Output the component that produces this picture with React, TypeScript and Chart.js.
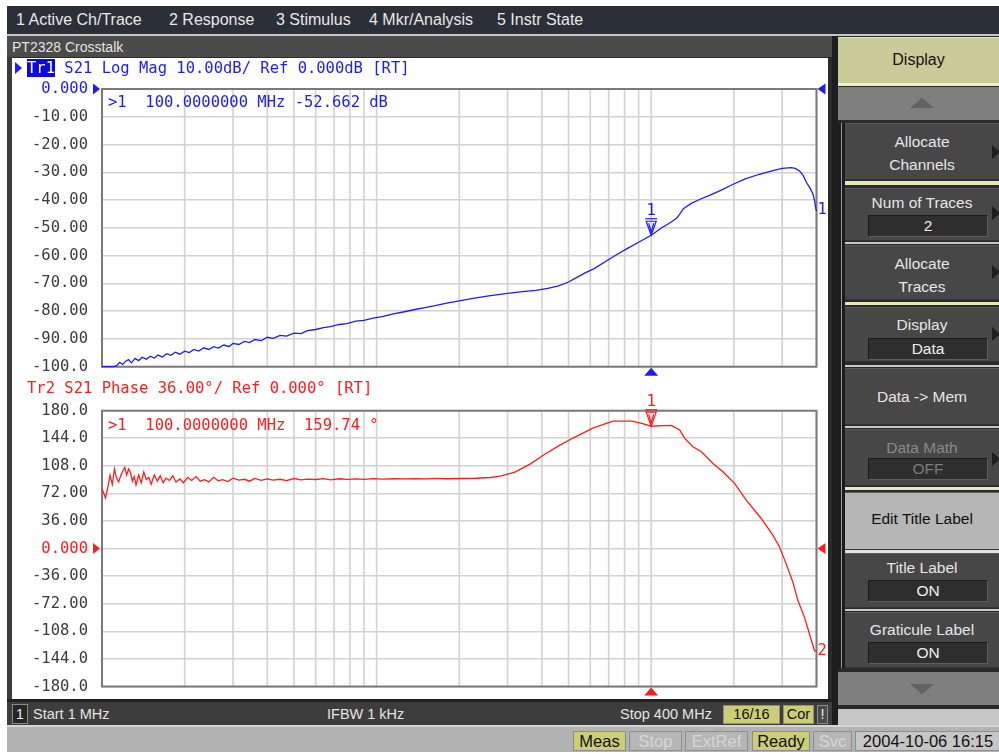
import React, { useEffect, useRef } from 'react';
import { Chart, registerables } from 'chart.js';
Chart.register(...registerables);

// ---------- DATA ----------
const gridFreqMHz = [1, 2, 3, 4, 5, 6, 7, 8, 9, 10, 20, 30, 40, 50, 60, 70, 80, 90, 100, 200, 300, 400];

const magFreqMHz = [
  1.0, 1.05, 1.1, 1.13, 1.16, 1.19, 1.22, 1.25, 1.28, 1.32,
  1.36, 1.4, 1.45, 1.5, 1.55, 1.6, 1.66, 1.72, 1.78, 1.85,
  1.92, 2.0, 2.08, 2.16, 2.25, 2.35, 2.45, 2.55, 2.65, 2.78,
  2.9, 3.0, 3.15, 3.3, 3.45, 3.6, 3.8, 4.0, 4.2, 4.45,
  4.7, 5.0, 5.3, 5.6, 6.0, 6.4, 6.8, 7.3, 7.8, 8.4,
  9.0, 9.7, 10.5, 11.5, 12.5, 13.8, 15, 16.5, 18, 20,
  23, 26, 30, 34, 38, 42, 46, 50, 53, 57,
  62, 68, 75, 82, 90, 100, 110, 118, 124, 128,
  131, 140, 150, 163, 180, 198, 220, 248, 275, 300,
  323, 335, 347, 357, 367, 378, 388, 394, 397, 400,
];
const magDb = [
  -100, -100, -100, -99.6, -98.4, -99.2, -98.0, -97.4, -98.6, -97.0,
  -97.8, -96.6, -97.3, -96.2, -96.9, -95.8, -96.5, -95.3, -95.9, -94.8,
  -95.5, -94.4, -94.9, -93.8, -94.4, -93.2, -93.8, -92.8, -93.3, -92.2,
  -92.7, -91.6, -92.0, -90.9, -91.3, -90.2, -90.6, -89.4, -89.8, -88.7,
  -89.0, -87.9, -88.1, -87.0, -86.6, -85.9, -85.6, -84.8, -84.5, -83.6,
  -83.3, -82.5, -82.0, -81.0, -80.3, -79.4, -78.7, -77.9, -77.1, -76.3,
  -75.2, -74.4, -73.6, -73.0, -72.5, -71.8, -70.9, -69.5, -68.1, -66.4,
  -64.7, -62.2, -59.6, -57.4, -55.2, -52.662, -49.8, -48.0, -46.5, -44.6,
  -43.1, -41.2, -39.8, -38.3, -36.4, -34.4, -32.4, -30.7, -29.5, -28.6,
  -28.3, -28.6, -29.5, -31.0, -33.5, -35.5, -37.7, -40.5, -42.7, -44.0,
];

const phaseFreqMHz = [
  1.0, 1.015, 1.03, 1.05, 1.07, 1.09, 1.11, 1.13, 1.15, 1.17,
  1.19, 1.21, 1.23, 1.25, 1.27, 1.29, 1.31, 1.33, 1.36, 1.39,
  1.42, 1.45, 1.48, 1.51, 1.55, 1.59, 1.63, 1.67, 1.71, 1.76,
  1.81, 1.86, 1.92, 1.98, 2.05, 2.12, 2.2, 2.28, 2.36, 2.45,
  2.55, 2.65, 2.75, 2.87, 3.0, 3.15, 3.3, 3.45, 3.6, 3.8,
  4.0, 4.2, 4.45, 4.7, 5.0, 5.3, 5.6, 6.0, 6.4, 6.8,
  7.3, 7.8, 8.4, 9.0, 9.7, 10.5, 11.5, 12.5, 13.8, 15,
  16.5, 18, 20, 23, 26, 28.2, 31.9, 36.2, 41.1, 46.5,
  51.9, 61.3, 72.5, 85, 93.2, 100, 110, 118.5, 127, 132.5,
  142, 152.3, 167.9, 182.5, 201.2, 222, 251.6, 277.4, 293.3, 310,
  328, 342, 361.5, 376.9, 393, 400,
];
const phaseDeg = [
  78.5, 72, 66, 80, 96, 84, 104, 92, 87, 95,
  101, 106, 96, 104, 99, 88, 94, 83, 96, 86,
  100, 90, 93, 84, 96, 88, 95, 86, 92, 89,
  95, 87, 91, 86, 93, 89, 94, 88, 90, 87,
  93, 88.5, 90, 87.5, 92, 89.5, 90.5, 88, 91.5, 89,
  91, 89.5, 90.5, 88.8, 91.5, 89.8, 90.8, 90.2, 91.4, 89.8,
  91.2, 90.4, 90.9, 90.3, 91.3, 90.6, 91.2, 90.9, 91.3, 91,
  91.6, 91.2, 91.5, 91.8, 92.8, 94.6, 99.8, 110.3, 123.4, 135.1,
  144.3, 157.3, 166.5, 166.5, 163.2, 159.74, 160.5, 160.8, 154.8, 143.9,
  132.9, 126.4, 111.2, 100.2, 85.1, 63.2, 39.3, 17.5, 2.2, -19.6,
  -43.6, -67.5, -89.4, -111.1, -133, -134.5,
];

const markerFreqMHz = 100;
const markerMagDb = -52.662;
const markerPhaseDeg = 159.74;

const menuItems = ['1 Active Ch/Trace', '2 Response', '3 Stimulus', '4 Mkr/Analysis', '5 Instr State'];
const menuX = [16, 169, 276, 369, 497];

// ---------- STYLE CONSTANTS ----------
const MONO = '"DejaVu Sans Mono", monospace';
const SANS = '"Liberation Sans", Arial, sans-serif';
const BLUE = '#1c1cff';
const RED = '#ff1c1c';
const GRID = '#d2d2d2';

const tri = (ctx: CanvasRenderingContext2D, pts: number[][]) => {
  ctx.beginPath();
  ctx.moveTo(pts[0][0], pts[0][1]);
  for (let i = 1; i < pts.length; i++) ctx.lineTo(pts[i][0], pts[i][1]);
  ctx.closePath();
  ctx.fill();
};

const vnaPlugin = {
  id: 'vna',
  beforeDatasetsDraw(chart: any) {
    const { ctx, chartArea: a, scales } = chart;
    ctx.save();
    ctx.strokeStyle = GRID;
    ctx.lineWidth = 1.6;
    gridFreqMHz.forEach((f) => {
      const x = scales.x.getPixelForValue(f);
      ctx.beginPath();
      ctx.moveTo(x, a.top);
      ctx.lineTo(x, a.bottom);
      ctx.stroke();
    });
    ctx.strokeStyle = '#7a7a7a';
    ctx.lineWidth = 2;
    ctx.strokeRect(a.left, a.top, a.right - a.left, a.bottom - a.top);
    ctx.restore();
  },
  afterDatasetsDraw(chart: any, _args: any, o: any) {
    const { ctx, chartArea: a, scales } = chart;
    const xs = scales.x;
    const ys = scales.y;
    ctx.save();
    ctx.fillStyle = o.color;
    ctx.strokeStyle = o.color;
    const ry = ys.getPixelForValue(o.refValue);
    tri(ctx, [[a.left - 9, ry - 5.5], [a.left - 9, ry + 5.5], [a.left - 2, ry]]);
    tri(ctx, [[a.right + 9, ry - 5.5], [a.right + 9, ry + 5.5], [a.right + 1, ry]]);
    const mx = xs.getPixelForValue(o.markerFreq);
    tri(ctx, [[mx, a.bottom + 1], [mx - 7, a.bottom + 9], [mx + 7, a.bottom + 9]]);
    const my = ys.getPixelForValue(o.markerValue);
    ctx.lineWidth = 1.2;
    ctx.beginPath();
    ctx.moveTo(mx - 5, my - 14);
    ctx.lineTo(mx + 5, my - 14);
    ctx.lineTo(mx, my);
    ctx.closePath();
    ctx.stroke();
    ctx.beginPath();
    ctx.moveTo(mx - 2.5, my - 12);
    ctx.lineTo(mx, my - 3);
    ctx.lineTo(mx + 2.5, my - 12);
    ctx.stroke();
    ctx.beginPath();
    ctx.moveTo(mx - 6, my - 16.5);
    ctx.lineTo(mx + 6, my - 16.5);
    ctx.stroke();
    ctx.font = `15.5px ${MONO}`;
    ctx.textAlign = 'center';
    ctx.textBaseline = 'middle';
    ctx.fillText('1', mx, my - 24);
    const data = chart.data.datasets[0].data;
    const last = data[data.length - 1];
    ctx.textAlign = 'left';
    ctx.fillText(String(o.traceNum), xs.getPixelForValue(last.x) + 1, ys.getPixelForValue(last.y) - 1);
    ctx.restore();
  },
};

type ChartProps = {
  l: number; t: number; w: number; h: number;
  pad: { top: number; bottom: number; left: number; right: number };
  freqs: number[]; values: number[];
  yMin: number; yMax: number; step: number;
  color: string; markerValue: number; traceNum: number;
};

function TraceChart(p: ChartProps) {
  const ref = useRef<HTMLCanvasElement>(null);
  useEffect(() => {
    const chart = new Chart(ref.current as HTMLCanvasElement, {
      type: 'line',
      data: {
        datasets: [{
          data: p.freqs.map((f, i) => ({ x: f, y: p.values[i] })),
          borderColor: p.color,
          borderWidth: 1.3,
          pointRadius: 0,
          tension: 0,
          clip: 4,
        } as any],
      },
      options: {
        animation: false,
        responsive: false,
        events: [],
        layout: { padding: p.pad },
        plugins: {
          legend: { display: false },
          tooltip: { enabled: false },
          vna: { color: p.color, refValue: 0, markerFreq: markerFreqMHz, markerValue: p.markerValue, traceNum: p.traceNum },
        } as any,
        scales: {
          x: {
            type: 'logarithmic',
            display: false,
            min: 1,
            max: 400,
          },
          y: {
            min: p.yMin,
            max: p.yMax,
            afterFit: (s: any) => { s.width = 90; s.paddingTop = 0; s.paddingBottom = 0; },
            ticks: {
              stepSize: p.step,
              autoSkip: false,
              padding: 14,
              color: (c: any) => (Math.abs(c.tick.value) < 1e-9 ? p.color : '#3c3c3c'),
              font: { family: 'DejaVu Sans Mono', size: 15.5 },
              callback: (v: any) => (Math.abs(Number(v)) < 1e-9 ? 0 : Number(v)).toPrecision(4),
            },
            grid: { color: GRID, lineWidth: 1.6, drawTicks: false },
            border: { display: false },
          },
        } as any,
      },
      plugins: [vnaPlugin],
    });
    return () => chart.destroy();
  }, []);
  return (
    <canvas ref={ref} width={p.w} height={p.h}
      style={{ position: 'absolute', left: p.l, top: p.t, width: p.w, height: p.h }} />
  );
}

type BoxProps = { l: number; t: number; w: number; h: number; bg?: string; style?: React.CSSProperties; children?: React.ReactNode };
const Box = ({ l, t, w, h, bg, style, children }: BoxProps) => (
  <div style={{ position: 'absolute', left: l, top: t, width: w, height: h, background: bg, boxSizing: 'border-box', ...style }}>{children}</div>
);

type LabelProps = { x: number; cy: number; text: React.ReactNode; size?: number; color?: string; font?: string; w?: number; align?: 'left' | 'center' | 'right' };
const Label = ({ x, cy, text, size = 16, color = '#e6e6e6', font = SANS, w, align = 'left' }: LabelProps) => (
  <div style={{ position: 'absolute', left: x, top: cy - 12, height: 24, lineHeight: '24px', width: w, textAlign: align, fontFamily: font, fontSize: size, color, whiteSpace: 'pre' }}>{text}</div>
);

const SK_L = 845;
const SK_W = 154;
const CX = 922;

const Arrow = ({ cy }: { cy: number }) => (
  <div style={{ position: 'absolute', left: 992, top: cy - 7, width: 0, height: 0, borderTop: '7px solid transparent', borderBottom: '7px solid transparent', borderLeft: '8px solid #1e1e1e' }} />
);

const ValBox = ({ t, text, color = '#f0f0f0' }: { t: number; text: string; color?: string }) => (
  <Box l={868} t={t} w={120} h={22} bg="#2e2e2e" style={{ borderTop: '1px solid #1a1a1a', borderLeft: '1px solid #1a1a1a', borderBottom: '1px solid #5e5e5e', borderRight: '1px solid #5e5e5e' }}>
    <div style={{ position: 'absolute', left: 0, top: 0, width: 118, height: 20, lineHeight: '20px', textAlign: 'center', fontFamily: SANS, fontSize: 15.5, color }}>{text}</div>
  </Box>
);

const Key = ({ t, h, bg = '#474747' }: { t: number; h: number; bg?: string }) => (
  <Box l={SK_L} t={t} w={SK_W} h={h} bg={bg} style={{ borderTop: '1px solid #5c5c5c', borderBottom: '1px solid #333' }} />
);

const StatBox = ({ l, w, t, h, text, bg, color, size = 16 }: { l: number; w: number; t: number; h: number; text: string; bg: string; color: string; size?: number }) => (
  <Box l={l} t={t} w={w} h={h} bg={bg} style={{ border: '1px solid #8e8e8e' }}>
    <div style={{ position: 'absolute', left: 0, top: 0, width: w - 2, height: h - 2, lineHeight: `${h - 2}px`, textAlign: 'center', fontFamily: SANS, fontSize: size, color, whiteSpace: 'pre' }}>{text}</div>
  </Box>
);

export default function App() {
  const magReadout = `>1  ${markerFreqMHz.toFixed(7)} MHz ${markerMagDb.toFixed(3)} dB`;
  const phaseReadout = `>1  ${markerFreqMHz.toFixed(7)} MHz  ${markerPhaseDeg.toFixed(2)} °`;
  return (
    <div style={{ position: 'fixed', left: 0, top: 0, width: 999, height: 754, background: '#ffffff', overflow: 'hidden' }}>
      {/* menu bar */}
      <Box l={7} t={6} w={992} h={28} bg="#2b2f37" />
      {menuItems.map((m, i) => (
        <Label key={m} x={menuX[i]} cy={20} text={m} size={16} color="#e8e8e8" />
      ))}
      <Box l={7} t={34} w={992} h={2} bg="#c4c4c4" />
      {/* dark background */}
      <Box l={7} t={36} w={992} h={691} bg="#2a2a2a" />
      {/* channel window */}
      <Box l={7} t={36} w={825} h={21} bg="#4b4b4b" />
      <Label x={12} cy={47} text="PT2328 Crosstalk" size={14} color="#e4e4e4" />
      <Box l={7} t={57} w={5} h={645} bg="#3c3c3c" />
      <Box l={12} t={58} w={816} h={641} bg="#ffffff" />
      <Box l={832} t={36} w={6} h={691} bg="#1e1e1e" />

      <TraceChart l={12} t={58} w={816} h={330}
        pad={{ top: 31, bottom: 21.3, left: 0, right: 11.5 }}
        freqs={magFreqMHz} values={magDb} yMin={-100} yMax={0} step={10}
        color={BLUE} markerValue={markerMagDb} traceNum={1} />
      <TraceChart l={12} t={388} w={816} h={311}
        pad={{ top: 22.7, bottom: 12.5, left: 0, right: 11.5 }}
        freqs={phaseFreqMHz} values={phaseDeg} yMin={-180} yMax={180} step={36}
        color={RED} markerValue={markerPhaseDeg} traceNum={2} />

      {/* trace headers */}
      <div style={{ position: 'absolute', left: 15, top: 62, width: 0, height: 0, borderTop: '6px solid transparent', borderBottom: '6px solid transparent', borderLeft: '7px solid ' + BLUE }} />
      <Label x={27} cy={68} size={15.5} font={MONO} color={BLUE}
        text={<><span style={{ background: '#0a0ae0', color: '#ffffff' }}>Tr1</span>{' S21 Log Mag 10.00dB/ Ref 0.000dB [RT]'}</>} />
      <Label x={27} cy={388} size={15.5} font={MONO} color={RED} text="Tr2 S21 Phase 36.00°/ Ref 0.000° [RT]" />
      <Label x={108} cy={102} size={15.5} font={MONO} color={BLUE} text={magReadout} />
      <Label x={108} cy={425} size={15.5} font={MONO} color={RED} text={phaseReadout} />

      {/* channel status bar */}
      <Box l={7} t={699} w={825} h={3} bg="#222" />
      <Box l={7} t={702} w={825} h={23} bg="#3d3d3d" />
      <Box l={12} t={704} w={16} h={20} bg="#262626" style={{ border: '1px solid #8a8a8a' }} />
      <Label x={12} w={16} align="center" cy={714} text="1" size={14} color="#f0f0f0" />
      <Label x={33} cy={714} text="Start 1 MHz" size={14.5} color="#e4e4e4" />
      <Label x={327} cy={714} text="IFBW 1 kHz" size={14.5} color="#e4e4e4" />
      <Label x={620} cy={714} text="Stop 400 MHz" size={14.5} color="#e4e4e4" />
      <StatBox l={723} w={57} t={705} h={19} text="16/16" bg="#cdcd78" color="#111" size={14.5} />
      <StatBox l={783} w={31} t={705} h={19} text="Cor" bg="#cdcd78" color="#111" size={14.5} />
      <StatBox l={817} w={11} t={705} h={19} text="!" bg="#4a4a4a" color="#f0f0f0" size={14.5} />

      {/* bottom bar */}
      <Box l={7} t={725} w={992} h={2} bg="#d6d6d6" />
      <Box l={7} t={727} w={992} h={25} bg="#b3b3b3" />
      <StatBox l={573} w={53} t={731} h={20} text="Meas" bg="#cdcd78" color="#111" size={16.5} />
      <StatBox l={629} w={53} t={731} h={20} text="Stop" bg="#b6b6b6" color="#d6d6d6" size={16.5} />
      <StatBox l={685} w={63} t={731} h={20} text="ExtRef" bg="#b6b6b6" color="#d6d6d6" size={16.5} />
      <StatBox l={752} w={58} t={731} h={20} text="Ready" bg="#cdcd78" color="#111" size={16.5} />
      <StatBox l={813} w={39} t={731} h={20} text="Svc" bg="#b6b6b6" color="#d6d6d6" size={16.5} />
      <StatBox l={855} w={146} t={731} h={20} text="2004-10-06 16:15" bg="#c6c6c6" color="#111" size={16.5} />

      {/* softkeys */}
      <Box l={838} t={37} w={161} h={46} bg="#cbcb99" style={{ borderTop: '1px solid #e6e6c0' }} />
      <Label x={838} w={161} align="center" cy={60} text="Display" size={16} color="#111" />
      <Box l={838} t={83} w={161} h={3} bg="#efefc4" />
      <Box l={838} t={87} w={161} h={33} bg="#7e7e7e" />
      <div style={{ position: 'absolute', left: CX - 12, top: 98, width: 0, height: 0, borderLeft: '12px solid transparent', borderRight: '12px solid transparent', borderBottom: '10px solid #626262' }} />

      <Box l={838} t={123} w={7} h={545} bg="#1c1c1c" />
      <Box l={841} t={123} w={1} h={545} bg="#9a9a9a" />

      <Key t={123} h={57} />
      <Label x={SK_L} w={SK_W} align="center" cy={142} text="Allocate" size={15.5} />
      <Label x={SK_L} w={SK_W} align="center" cy={165} text="Channels" size={15.5} />
      <Arrow cy={152} />
      <Box l={SK_L} t={181} w={SK_W} h={4} bg="#e6e6b8" />

      <Key t={188} h={53} />
      <Label x={SK_L} w={SK_W} align="center" cy={203} text="Num of Traces" size={15.5} />
      <ValBox t={215} text="2" />
      <Arrow cy={213} />
      <Box l={SK_L} t={242} w={SK_W} h={2} bg="#c8c8c8" />

      <Key t={245} h={55} />
      <Label x={SK_L} w={SK_W} align="center" cy={264} text="Allocate" size={15.5} />
      <Label x={SK_L} w={SK_W} align="center" cy={287} text="Traces" size={15.5} />
      <Arrow cy={272} />
      <Box l={SK_L} t={302} w={SK_W} h={3} bg="#e6e6b8" />

      <Key t={307} h={55} />
      <Label x={SK_L} w={SK_W} align="center" cy={325} text="Display" size={15.5} />
      <ValBox t={338} text="Data" />
      <Arrow cy={334} />
      <Box l={SK_L} t={365} w={SK_W} h={2} bg="#c8c8c8" />

      <Key t={368} h={57} />
      <Label x={SK_L} w={SK_W} align="center" cy={397} text="Data -> Mem" size={15.5} />
      <Box l={SK_L} t={426} w={SK_W} h={2} bg="#c8c8c8" />

      <Key t={429} h={57} />
      <Label x={SK_L} w={SK_W} align="center" cy={448} text="Data Math" size={15.5} color="#8a8a8a" />
      <ValBox t={458} text="OFF" color="#7c7c7c" />
      <Arrow cy={459} />
      <Box l={SK_L} t={487} w={SK_W} h={3} bg="#e6e6b8" />

      <Key t={492} h={58} bg="#b6b6b6" />
      <Label x={SK_L} w={SK_W} align="center" cy={519} text="Edit Title Label" size={15.5} color="#111" />
      <Box l={SK_L} t={550} w={SK_W} h={3} bg="#e2e2e2" />

      <Key t={553} h={55} />
      <Label x={SK_L} w={SK_W} align="center" cy={568} text="Title Label" size={15.5} />
      <ValBox t={580} text="ON" />
      <Box l={SK_L} t={609} w={SK_W} h={2} bg="#c8c8c8" />

      <Key t={612} h={56} />
      <Label x={SK_L} w={SK_W} align="center" cy={630} text="Graticule Label" size={15.5} />
      <ValBox t={642} text="ON" />

      <Box l={838} t={672} w={161} h={33} bg="#7e7e7e" />
      <div style={{ position: 'absolute', left: CX - 12, top: 684, width: 0, height: 0, borderLeft: '12px solid transparent', borderRight: '12px solid transparent', borderTop: '10px solid #626262' }} />
      <Box l={838} t={709} w={161} h={16} bg="#c6c6c6" />
    </div>
  );
}
